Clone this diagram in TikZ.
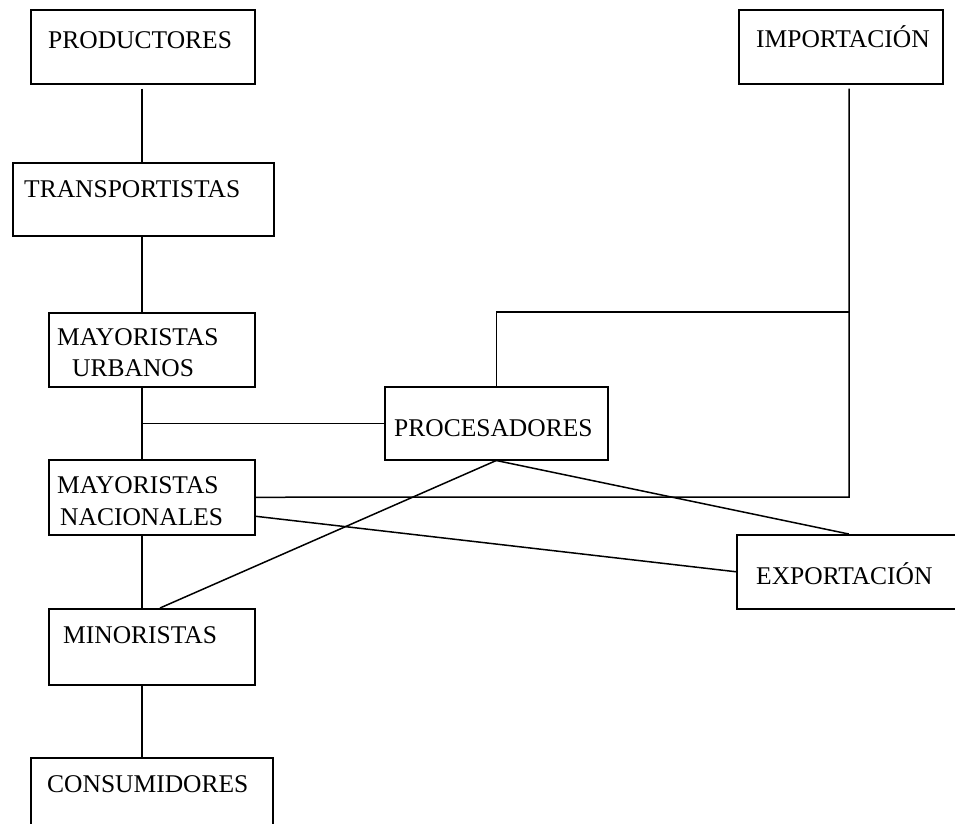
\documentclass[tikz,border=0pt]{standalone}
\usepackage{fontspec}
\setmainfont{Liberation Serif}
\begin{document}
\begin{tikzpicture}[x=1pt,y=-1pt,
  box/.style={draw,line width=1.5pt,rectangle,inner sep=0pt,anchor=north west},
  lbl/.style={anchor=base west,inner sep=0pt,font=\fontsize{25.5}{30}\selectfont},
  conn/.style={line width=1.5pt}]
\useasboundingbox (0,0) rectangle (955,823);
\clip (0,0) rectangle (955,823);
% boxes
\node[box,minimum width=224pt,minimum height=74pt] (prod) at (30,9) {};
\node[box,minimum width=204pt,minimum height=74pt] (imp) at (738,9) {};
\node[box,minimum width=261pt,minimum height=73pt] (trans) at (12,162) {};
\node[box,minimum width=206pt,minimum height=74pt] (mu) at (48,312) {};
\node[box,minimum width=223pt,minimum height=73pt] (proc) at (384,386) {};
\node[box,minimum width=206pt,minimum height=75pt] (mn) at (48,459) {};
\node[box,minimum width=224pt,minimum height=74pt] (exp) at (736,534) {};
\node[box,minimum width=206pt,minimum height=76pt] (mi) at (48,608) {};
\node[box,minimum width=242pt,minimum height=90pt] (cons) at (30,757) {};
% texts
\node[lbl] (tprod) at (48,48) {PRODUCTORES};
\node[lbl] (timp) at (756,47) {IMPORTACIÓN};
\node[lbl] (ttrans) at (24,197) {TRANSPORTISTAS};
\node[lbl] (tmu1) at (57,345) {MAYORISTAS};
\node[lbl] (tmu2) at (72,376) {URBANOS};
\node[lbl] (tproc) at (394,436) {PROCESADORES};
\node[lbl] (tmn1) at (57,493) {MAYORISTAS};
\node[lbl] (tmn2) at (60,525) {NACIONALES};
\node[lbl] (texp) at (756,584) {EXPORTACIÓN};
\node[lbl] (tmi) at (63,643) {MINORISTAS};
\node[lbl] (tcons) at (47,792) {CONSUMIDORES};
% junction coordinates
\coordinate (xl) at (142,0);
\coordinate (jtop) at (849,312);
\coordinate (jbr) at (849,497);
% connectors
\draw[conn] ([yshift=-4pt]prod.south -| xl) -- (trans.north -| xl);
\draw[conn] (trans.south -| xl) -- (mu.north -| xl);
\draw[conn] (mu.south -| xl) -- (mn.north -| xl);
\draw[conn] (proc.west -| xl) -- (proc.west);
\draw[conn] (mn.south -| xl) -- (mi.north -| xl);
\draw[conn] (mi.south -| xl) -- (cons.north -| xl);
\draw[conn] (proc.north) |- (jtop);
\draw[conn] ([yshift=-4pt]imp.south -| jtop) -- (jbr) -- (mn.east);
\draw[conn] (proc.south) -- ([xshift=112pt]mi.north west);
\draw[conn] (proc.south) -- (exp.north);
\draw[conn] ([yshift=-19pt]mn.east) -- (exp.west);
\end{tikzpicture}
\end{document}
